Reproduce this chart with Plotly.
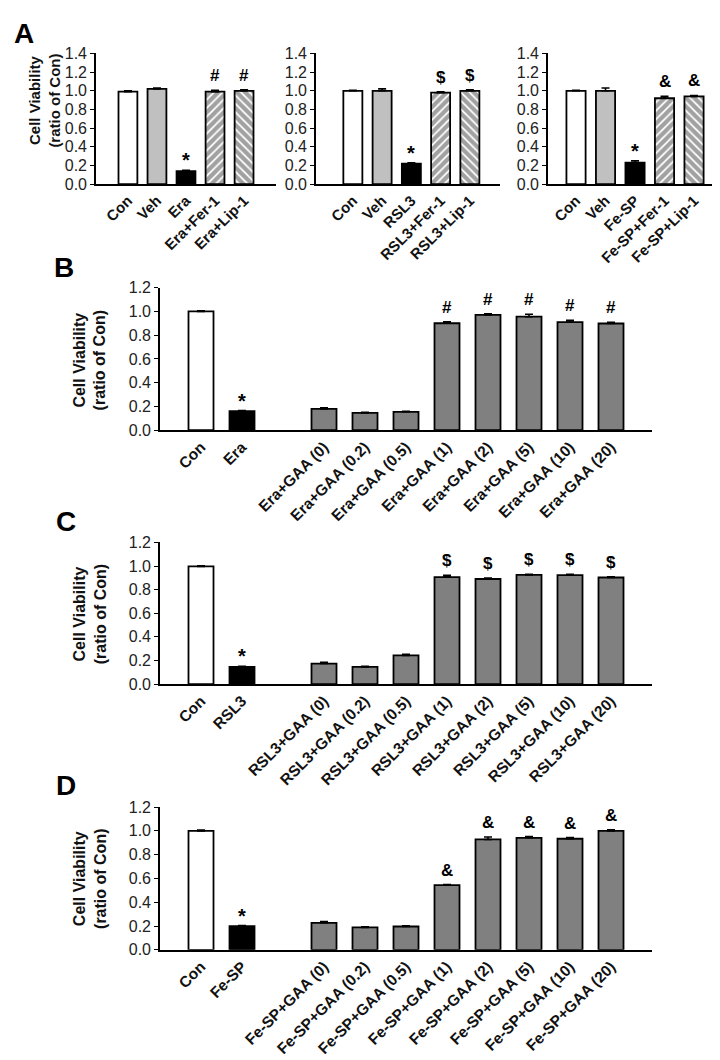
import plotly.graph_objects as go

W, H = 720, 1060
FONT = "Liberation Sans, Arial, sans-serif"

# ---------------- Data ----------------
# Panel A
a1_cats = ["Con", "Veh", "Era", "Era+Fer-1", "Era+Lip-1"]
a1_vals = [0.99, 1.02, 0.14, 0.99, 1.00]
a1_err = [0.01, 0.01, 0.01, 0.015, 0.01]
a1_sig = ["", "", "*", "#", "#"]

a2_cats = ["Con", "Veh", "RSL3", "RSL3+Fer-1", "RSL3+Lip-1"]
a2_vals = [1.00, 1.00, 0.22, 0.98, 1.00]
a2_err = [0.005, 0.02, 0.01, 0.01, 0.01]
a2_sig = ["", "", "*", "$", "$"]

a3_cats = ["Con", "Veh", "Fe-SP", "Fe-SP+Fer-1", "Fe-SP+Lip-1"]
a3_vals = [1.00, 1.00, 0.23, 0.92, 0.94]
a3_err = [0.005, 0.03, 0.02, 0.02, 0.01]
a3_sig = ["", "", "*", "&", "&"]

a_colors = ["white", "#c0c0c0", "black", "white", "white"]
a_patterns = ["", "", "", "/", "\\"]

# Panels B-D
bcd_pos = [0, 1, 3, 4, 5, 6, 7, 8, 9, 10]
gaa_doses = ["0", "0.2", "0.5", "1", "2", "5", "10", "20"]

b_cats = ["Con", "Era"] + [f"Era+GAA ({d})" for d in gaa_doses]
b_vals = [1.00, 0.16, 0.18, 0.146, 0.155, 0.90, 0.97, 0.955, 0.91, 0.898]
b_err = [0.005, 0.005, 0.008, 0.004, 0.005, 0.012, 0.01, 0.02, 0.015, 0.01]
b_sig = ["", "*", "", "", "", "#", "#", "#", "#", "#"]

c_cats = ["Con", "RSL3"] + [f"RSL3+GAA ({d})" for d in gaa_doses]
c_vals = [0.997, 0.146, 0.174, 0.146, 0.243, 0.906, 0.89, 0.925, 0.923, 0.903]
c_err = [0.005, 0.005, 0.01, 0.004, 0.01, 0.015, 0.008, 0.005, 0.008, 0.005]
c_sig = ["", "*", "", "", "", "$", "$", "$", "$", "$"]

d_cats = ["Con", "Fe-SP"] + [f"Fe-SP+GAA ({d})" for d in gaa_doses]
d_vals = [1.00, 0.199, 0.227, 0.188, 0.196, 0.544, 0.928, 0.942, 0.934, 1.00]
d_err = [0.008, 0.005, 0.01, 0.005, 0.005, 0.005, 0.02, 0.01, 0.01, 0.01]
d_sig = ["", "*", "", "", "", "&", "&", "&", "&", "&"]

bcd_colors = ["white", "black"] + ["#808080"] * 8

# ---------------- Layout helpers ----------------
def xd(x0, x1):
    return [x0 / W, x1 / W]

def yd(top, bottom):
    return [1 - bottom / H, 1 - top / H]

fig = go.Figure()
annotations = []

panels = [
    dict(cats=a1_cats, x=list(range(5)), vals=a1_vals, err=a1_err, sig=a1_sig,
         colors=a_colors, pats=a_patterns, xdom=(88, 268), ydom=(38, 171),
         xr=[-1.1, 5.1], yr=[0, 1.4], width=0.65, xfs=15),
    dict(cats=a2_cats, x=list(range(5)), vals=a2_vals, err=a2_err, sig=a2_sig,
         colors=a_colors, pats=a_patterns, xdom=(308, 492), ydom=(38, 171),
         xr=[-1.26, 5.03], yr=[0, 1.4], width=0.65, xfs=15),
    dict(cats=a3_cats, x=list(range(5)), vals=a3_vals, err=a3_err, sig=a3_sig,
         colors=a_colors, pats=a_patterns, xdom=(540, 717), ydom=(38, 171),
         xr=[-0.95, 5.05], yr=[0, 1.4], width=0.65, xfs=15),
    dict(cats=b_cats, x=bcd_pos, vals=b_vals, err=b_err, sig=b_sig,
         colors=bcd_colors, pats=[""] * 10, xdom=(152, 644), ydom=(276, 421),
         xr=[-1, 11], yr=[0, 1.2], width=0.61, xfs=15.5),
    dict(cats=c_cats, x=bcd_pos, vals=c_vals, err=c_err, sig=c_sig,
         colors=bcd_colors, pats=[""] * 10, xdom=(152, 644), ydom=(535, 679),
         xr=[-1, 11], yr=[0, 1.2], width=0.61, xfs=15.5),
    dict(cats=d_cats, x=bcd_pos, vals=d_vals, err=d_err, sig=d_sig,
         colors=bcd_colors, pats=[""] * 10, xdom=(152, 644), ydom=(804, 949),
         xr=[-1, 11], yr=[0, 1.2], width=0.61, xfs=15.5),
]

for i, p in enumerate(panels):
    n = i + 1
    xa = "x" if n == 1 else f"x{n}"
    ya = "y" if n == 1 else f"y{n}"
    fig.add_trace(go.Bar(
        x=p["x"], y=p["vals"], xaxis=xa, yaxis=ya, width=p["width"],
        marker=dict(color=p["colors"], line=dict(color="black", width=1.8),
                    pattern=dict(shape=p["pats"], fgcolor="black", bgcolor="white",
                                 size=6, solidity=0.7)),
        error_y=dict(type="data", array=p["err"], arrayminus=[0] * len(p["err"]),
                     symmetric=False, color="black", thickness=1.6, width=4),
        showlegend=False, hoverinfo="skip",
    ))
    xkey = "xaxis" if n == 1 else f"xaxis{n}"
    ykey = "yaxis" if n == 1 else f"yaxis{n}"
    fig.update_layout(**{
        xkey: dict(domain=xd(*p["xdom"]), range=p["xr"], anchor=ya,
                   tickmode="array", tickvals=p["x"], ticktext=[f"<b>{c}</b>" for c in p["cats"]],
                   tickangle=-45, showline=True, linecolor="black", linewidth=1.6,
                   ticks="", showgrid=False, zeroline=False,
                   tickfont=dict(family=FONT, size=p["xfs"], color="#111")),
        ykey: dict(domain=yd(*p["ydom"]), range=p["yr"], anchor=xa,
                   dtick=0.2, tickformat=".1f", showline=True, linecolor="black",
                   linewidth=1.6, ticks="outside", ticklen=4, tickwidth=1.3,
                   tickcolor="black", showgrid=False, zeroline=False,
                   tickfont=dict(family=FONT, size=16, color="#222")),
    })
    for xv, v, e, s in zip(p["x"], p["vals"], p["err"], p["sig"]):
        if s:
            annotations.append(dict(
                x=xv, y=v + e, xref=xa, yref=ya, text=f"<b>{s}</b>",
                showarrow=False, yanchor="bottom", yshift=3 if s != "*" else -3,
                font=dict(family=FONT, size=20 if s == "*" else 17, color="black")))

# Y-axis titles
ytitle = "<b>Cell Viability<br>(ratio of Con)</b>"
for (cx, cy, fs) in [(37, 86, 15), (82, 350, 16), (82, 608, 16), (82, 877, 16)]:
    annotations.append(dict(x=cx / W, y=1 - cy / H, xref="paper", yref="paper",
                            text=ytitle, textangle=-90, showarrow=False,
                            xanchor="center", yanchor="middle",
                            font=dict(family=FONT, size=fs, color="#111")))

# Panel letters
for (lt, lx, ly) in [("A", 4, 18), ("B", 44, 256), ("C", 46, 514), ("D", 46, 782)]:
    annotations.append(dict(x=lx / W, y=1 - ly / H, xref="paper", yref="paper",
                            text=f"<b>{lt}</b>", showarrow=False,
                            xanchor="left", yanchor="middle",
                            font=dict(family=FONT, size=28, color="black")))

fig.update_layout(
    width=W, height=H, margin=dict(l=0, r=0, t=0, b=0),
    paper_bgcolor="white", plot_bgcolor="white",
    annotations=annotations, barmode="overlay",
)

fig.write_html("out.html")
